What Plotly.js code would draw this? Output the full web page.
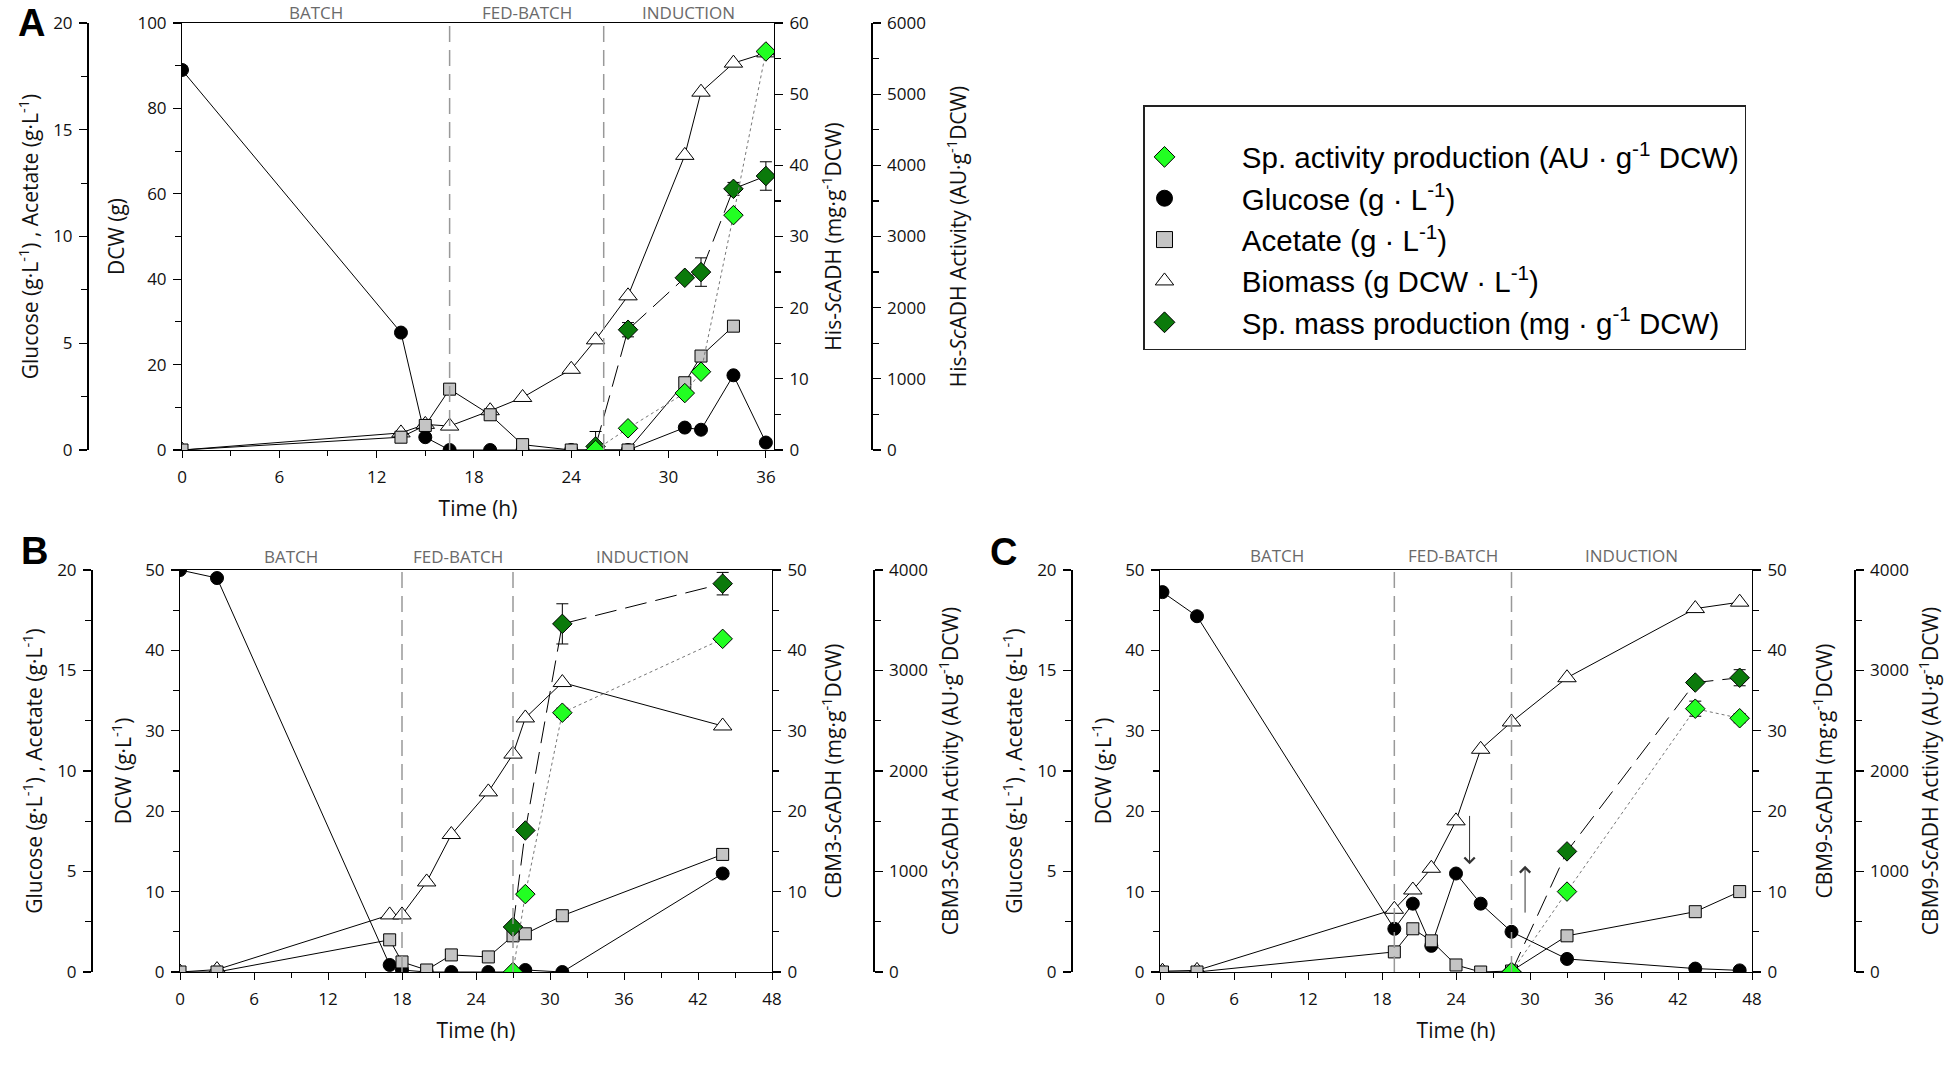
<!DOCTYPE html>
<html>
<head>
<meta charset="utf-8">
<script src="https://cdn.plot.ly/plotly-3.0.1.min.js"></script>
<style>
body{margin:0;background:#fff;}
#chart{width:1944px;height:1074px;}
</style>
</head>
<body>
<div id="chart"></div>
<script>
/* ---------- DATA ---------- */

// panel A : His-ScADH
const timeA_glucose=[0,13.5,15,16.5,19,21,24,27.5,31,32,34,36];
const glucoseA=[17.8,5.5,0.6,0,0,0,0,0,1.05,0.95,3.5,0.35];
const timeA_acetate=[0,13.5,15,16.5,19,21,24,27.5,31,32,34];
const acetateA=[0,0.6,1.15,2.85,1.65,0.25,0,0,3.15,4.4,5.8];
const timeA_biomass=[0,13.5,15,16.5,19,21,24,25.5,27.5,31,32,34,36];
const biomassA=[0,4.0,6.0,5.6,9.2,12.3,18.9,25.8,36.1,69,83.8,90.6,93];
const timeA_prod=[25.5,27.5,31,32,34,36];
const massA=[0.5,16.9,24.2,25.0,36.7,38.5];
const massErrA=[2.1,1.0,0,2.0,0.9,2.0];
const activityA=[0,305,800,1100,3300,5600];
const activityErrA=[0,0,0,0,0,0];
const phasesA=[16.5,26];

// panel B : CBM3-ScADH
const timeB=[0,3,17,18,20,22,25,27,28,31,44];
const glucoseB=[20,19.6,0.35,0.1,0,0,0,0,0.1,0,4.9];
const acetateB=[0,0,1.6,0.5,0.1,0.85,0.75,1.8,1.9,2.8,5.85];
const biomassB=[0,0.3,7.1,7.1,11.2,17.1,22.4,27.1,31.6,36,30.6];
const timeB_prod=[27,28,31,44];
const massB=[5.6,17.6,43.3,48.3];
const massErrB=[0,0,2.5,1.4];
const activityB=[0,775,2580,3315];
const activityErrB=[0,0,45,0];
const phasesB=[18,27];

// panel C : CBM9-ScADH
const timeC=[0.2,3,19,20.5,22,24,26,28.5,33,43.4,47];
const glucoseC=[18.9,17.7,2.15,3.4,1.3,4.9,3.4,2.0,0.65,0.17,0.08];
const acetateC=[0,0,1.0,2.15,1.55,0.35,0,0.05,1.8,3.0,4.0];
const biomassC=[0.1,0.2,7.8,10.2,12.9,18.8,27.7,31.1,36.6,45.2,46];
const timeC_prod=[28.5,33,43.4,47];
const massC=[0,15,36,36.6];
const massErrC=[0,0,0,1.0];
const activityC=[0,800,2620,2525];
const activityErrC=[0,0,75,45];
const phasesC=[19,28.5];

const phaseNames=["BATCH","FED-BATCH","INDUCTION"];

/* ---------- STYLE ---------- */

const FONT="Open Sans, sans-serif";
const ARIAL="Liberation Sans, Arial, sans-serif";
const LIGHT="#22ff22";
const DARK="#0b7a0b";
const GREY="#c4c4c4";

function series(x,y,xa,ya,sym,fill,size,dash,lineColor,err){
    let t={
        x:x,y:y,xaxis:xa,yaxis:ya,
        mode:"lines+markers",
        showlegend:false,
        line:{color:lineColor||"#000",width:1,dash:dash||"solid"},
        marker:{symbol:sym,color:fill,size:size,line:{color:"#000",width:1}}
    };
    if(err){
        t.error_y={type:"data",array:err,visible:true,color:"#000",thickness:1,width:6};
    }
    return t;
}

function panelTraces(xa,ys,d){
    // ys = [dcw, glucose, mg, activity]
    return [
        series(d.tg,d.glu,xa,ys[1],"circle","#000",13),
        series(d.ta,d.ace,xa,ys[1],"square",GREY,12),
        series(d.tb,d.bio,xa,ys[0],"triangle-up","#fff",16),
        series(d.tp,d.act,xa,ys[3],"diamond",LIGHT,15,"dot","#777",d.actErr),
        series(d.tp,d.mass,xa,ys[2],"diamond",DARK,15,"22px,9px","#000",d.massErr)
    ];
}

let traces=[];
traces=traces.concat(panelTraces("x",["y","y2","y3","y4"],{
    tg:timeA_glucose,glu:glucoseA,ta:timeA_acetate,ace:acetateA,
    tb:timeA_biomass,bio:biomassA,tp:timeA_prod,mass:massA,massErr:massErrA,
    act:activityA,actErr:activityErrA
}));
traces=traces.concat(panelTraces("x2",["y5","y6","y7","y8"],{
    tg:timeB,glu:glucoseB,ta:timeB,ace:acetateB,
    tb:timeB,bio:biomassB,tp:timeB_prod,mass:massB,massErr:massErrB,
    act:activityB,actErr:activityErrB
}));
traces=traces.concat(panelTraces("x3",["y9","y10","y11","y12"],{
    tg:timeC,glu:glucoseC,ta:timeC,ace:acetateC,
    tb:timeC,bio:biomassC,tp:timeC_prod,mass:massC,massErr:massErrC,
    act:activityC,actErr:activityErrC
}));

/* ---------- LEGEND ENTRIES ---------- */

const legendItems=[
    ["Sp. activity production (AU · g<sup>-1</sup> DCW)","diamond",LIGHT],
    ["Glucose (g · L<sup>-1</sup>)","circle","#000"],
    ["Acetate (g · L<sup>-1</sup>)","square",GREY],
    ["Biomass (g DCW · L<sup>-1</sup>)","triangle-up","#fff"],
    ["Sp. mass production (mg · g<sup>-1</sup> DCW)","diamond",DARK]
];
const pad="\u00a0\u00a0\u00a0\u00a0\u00a0\u00a0\u00a0";
legendItems.forEach(it=>{
    traces.push({
        x:[null],y:[null],xaxis:"x",yaxis:"y",
        mode:"markers",name:pad+it[0],showlegend:true,
        marker:{symbol:it[1],color:it[2],size:16,line:{color:"#000",width:1}}
    });
});

/* ---------- AXES ---------- */

const W=1944,H=1074;
function px(x){return x/W;}
function py(y){return 1-y/H;}

const tickFont={family:FONT,size:17,color:"#111"};
const titleFont={family:FONT,size:21,color:"#111"};

function xAxis(domain,range,dtick,anchor){
    return {
        domain:domain,range:range,anchor:anchor,
        tickmode:"linear",tick0:0,dtick:dtick,
        ticks:"outside",ticklen:7,tickwidth:1,tickcolor:"#000",ticklabelstandoff:5,
        minor:{ticks:"outside",dtick:dtick/2,ticklen:5,tickcolor:"#000"},
        showline:true,linecolor:"#000",linewidth:1,mirror:true,
        showgrid:false,zeroline:false,tickfont:tickFont,
        title:{text:"Time (h)",font:titleFont,standoff:13}
    };
}

function yAxis(opts){
    let a={
        range:opts.range,tickmode:"linear",tick0:0,dtick:opts.dtick,
        ticks:"outside",ticklen:8,tickwidth:1.2,tickcolor:"#000",ticklabelstandoff:3,
        minor:{ticks:"outside",dtick:opts.dtick/2,ticklen:6,tickcolor:"#000"},
        showline:true,linecolor:"#000",linewidth:opts.lw||1,
        showgrid:false,zeroline:false,tickfont:tickFont,
        side:opts.side,
        title:{text:opts.title,font:titleFont,standoff:opts.standoff||7}
    };
    if(opts.domain) a.domain=opts.domain;
    if(opts.overlaying) a.overlaying=opts.overlaying;
    if(opts.position!==undefined){a.anchor="free";a.position=opts.position;}
    else a.anchor=opts.anchor;
    return a;
}

const domA=[py(450),py(23)];
const domB=[py(972),py(570)];

const layout={
    width:W,height:H,
    margin:{l:0,r:0,t:0,b:0},
    paper_bgcolor:"#fff",plot_bgcolor:"rgba(0,0,0,0)",
    font:{family:FONT,color:"#111"},
    showlegend:true,
    legend:{
        x:px(1143),y:py(105),xanchor:"left",yanchor:"top",
        bordercolor:"#222",borderwidth:1.5,bgcolor:"#fff",
        font:{family:ARIAL,size:29.5,color:"#000"},
        title:{text:"\u00a0",font:{family:ARIAL,size:19}},
        itemwidth:30,itemclick:false
    },

    // panel A
    xaxis:xAxis([px(182),px(774)],[0,36.5],6,"y"),
    yaxis:yAxis({domain:domA,range:[0,100],dtick:20,side:"left",anchor:"x",title:"DCW (g)"}),
    yaxis2:yAxis({range:[0,20],dtick:5,side:"left",overlaying:"y",position:px(87),lw:1.6,
        title:"Glucose (g·L<sup>-1</sup>) , Acetate (g·L<sup>-1</sup>)"}),
    yaxis3:yAxis({range:[0,60],dtick:10,side:"right",overlaying:"y",anchor:"x",standoff:18,
        title:"His-<i>Sc</i>ADH (mg·g<sup>-1</sup>DCW)"}),
    yaxis4:yAxis({range:[0,6000],dtick:1000,side:"right",overlaying:"y",position:px(871),lw:1.6,standoff:26,
        title:"His-<i>Sc</i>ADH Activity (AU·g<sup>-1</sup>DCW)"}),

    // panel B
    xaxis2:xAxis([px(180),px(772)],[0,48],6,"y5"),
    yaxis5:yAxis({domain:domB,range:[0,50],dtick:10,side:"left",anchor:"x2",title:"DCW (g·L<sup>-1</sup>)"}),
    yaxis6:yAxis({range:[0,20],dtick:5,side:"left",overlaying:"y5",position:px(91),lw:1.6,
        title:"Glucose (g·L<sup>-1</sup>) , Acetate (g·L<sup>-1</sup>)"}),
    yaxis7:yAxis({range:[0,50],dtick:10,side:"right",overlaying:"y5",anchor:"x2",standoff:20,
        title:"CBM3-<i>Sc</i>ADH (mg·g<sup>-1</sup>DCW)"}),
    yaxis8:yAxis({range:[0,4000],dtick:1000,side:"right",overlaying:"y5",position:px(873),lw:1.6,standoff:16,
        title:"CBM3-<i>Sc</i>ADH Activity (AU·g<sup>-1</sup>DCW)"}),

    // panel C
    xaxis3:xAxis([px(1160),px(1752)],[0,48],6,"y9"),
    yaxis9:yAxis({domain:domB,range:[0,50],dtick:10,side:"left",anchor:"x3",title:"DCW (g·L<sup>-1</sup>)"}),
    yaxis10:yAxis({range:[0,20],dtick:5,side:"left",overlaying:"y9",position:px(1071),lw:1.6,
        title:"Glucose (g·L<sup>-1</sup>) , Acetate (g·L<sup>-1</sup>)"}),
    yaxis11:yAxis({range:[0,50],dtick:10,side:"right",overlaying:"y9",anchor:"x3",standoff:31,
        title:"CBM9-<i>Sc</i>ADH (mg·g<sup>-1</sup>DCW)"}),
    yaxis12:yAxis({range:[0,4000],dtick:1000,side:"right",overlaying:"y9",position:px(1854),lw:1.6,standoff:18,
        title:"CBM9-<i>Sc</i>ADH Activity (AU·g<sup>-1</sup>DCW)"}),

    shapes:[],
    annotations:[]
};

/* ---------- PHASES, LETTERS, ARROWS ---------- */

function addPhases(xa,ya,bounds,end,topY){
    bounds.forEach(b=>{
        layout.shapes.push({
            type:"line",xref:xa,yref:ya+" domain",x0:b,x1:b,y0:0,y1:1,
            line:{color:"#999",width:1.5,dash:"16px,8px"}
        });
    });
    let edges=[0].concat(bounds).concat([end]);
    phaseNames.forEach((n,i)=>{
        layout.annotations.push({
            text:n,xref:xa,yref:"paper",x:(edges[i]+edges[i+1])/2,y:topY,
            yanchor:"bottom",showarrow:false,font:{family:FONT,size:17,color:"#6a6a6a"}
        });
    });
}
addPhases("x","y",phasesA,36.5,py(26));
addPhases("x2","y5",phasesB,48,py(570));
addPhases("x3","y9",phasesC,48,py(569));

[["A",16,0],["B",19,528],["C",1003,529]].forEach(l=>{
    layout.annotations.push({
        text:"<b>"+l[0]+"</b>",xref:"paper",yref:"paper",x:px(l[1]),y:py(l[2]),
        yanchor:"top",showarrow:false,font:{family:ARIAL,size:38,color:"#000"}
    });
});

// feed arrows in panel C
layout.annotations.push({
    x:25.1,y:13.4,ax:25.1,ay:19.6,xref:"x3",yref:"y9",axref:"x3",ayref:"y9",
    text:"",showarrow:true,arrowhead:4,arrowsize:2,arrowwidth:1,arrowcolor:"#333"
});
layout.annotations.push({
    x:29.6,y:13.2,ax:29.6,ay:7.2,xref:"x3",yref:"y9",axref:"x3",ayref:"y9",
    text:"",showarrow:true,arrowhead:4,arrowsize:2,arrowwidth:1,arrowcolor:"#333"
});

Plotly.newPlot("chart",traces,layout,{displayModeBar:false,staticPlot:true});
</script>
</body>
</html>
